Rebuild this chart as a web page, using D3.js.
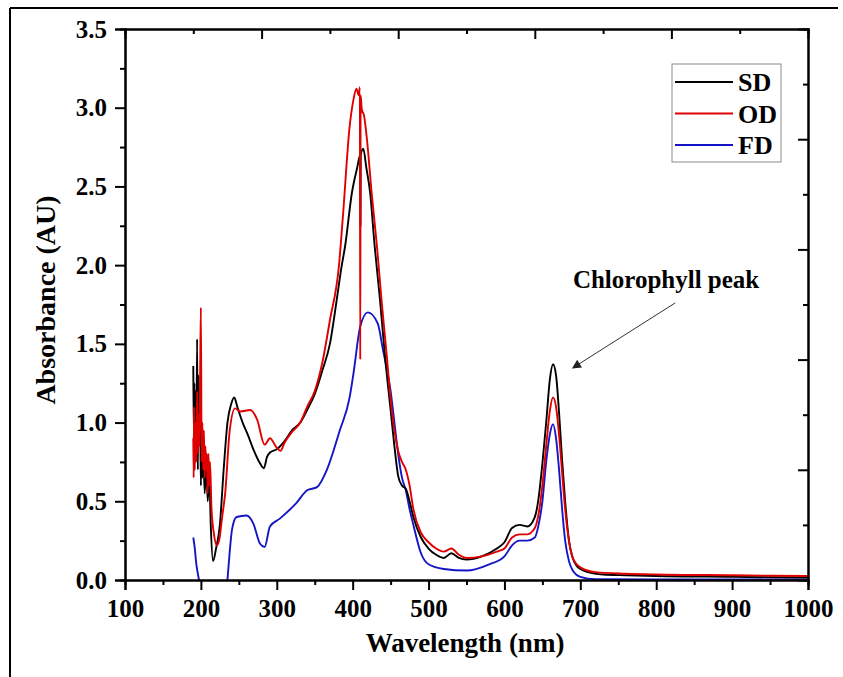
<!DOCTYPE html>
<html>
<head>
<meta charset="utf-8">
<script src="https://cdn.jsdelivr.net/npm/d3@7"></script>
<style>
  body { margin: 0; background: #fff; }
  svg text { font-family: "Liberation Serif", "Times New Roman", serif; font-weight: bold; }
</style>
</head>
<body>
<div id="chart"></div>
<script>
// Series (wavelength in nm, absorbance in AU)
const wlSD = [190, 190.7, 191.5, 192.3, 193, 194, 195, 196, 197, 198, 199, 200, 201, 202, 203, 205, 207, 209, 211, 213, 216, 220, 225, 230, 235, 240, 244, 248, 255, 262, 270, 278, 283, 287, 291, 300, 310, 320, 331, 340, 350, 360, 370, 379, 385, 390, 399, 406, 410, 410.3, 410.6, 414, 418, 423, 429, 436, 443, 450, 455, 460, 465, 470, 475, 480, 490, 500, 510, 520, 530, 540, 550, 570, 590, 600, 610, 620, 630, 640, 645, 650, 655, 660, 664, 668, 672, 676, 680, 685, 690, 695, 700, 710, 730, 760, 800, 900, 1000];
const absSD = [1.36, 0.9, 1.25, 0.95, 1.2, 0.8, 1.53, 0.7, 1.3, 0.9, 1.05, 0.6, 0.9, 0.65, 0.85, 0.55, 0.75, 0.5, 0.68, 0.35, 0.12, 0.2, 0.35, 0.7, 1.0, 1.12, 1.16, 1.1, 1.0, 0.92, 0.82, 0.74, 0.71, 0.78, 0.81, 0.83, 0.88, 0.95, 1.0, 1.08, 1.18, 1.33, 1.5, 1.78, 1.98, 2.12, 2.46, 2.62, 2.7, 2.25, 2.7, 2.74, 2.62, 2.46, 2.12, 1.78, 1.4, 1.08, 0.85, 0.66, 0.6, 0.58, 0.5, 0.4, 0.27, 0.2, 0.16, 0.14, 0.17, 0.14, 0.13, 0.15, 0.2, 0.24, 0.33, 0.35, 0.34, 0.4, 0.52, 0.74, 1.0, 1.28, 1.37, 1.3, 1.06, 0.76, 0.5, 0.25, 0.14, 0.09, 0.07, 0.05, 0.035, 0.03, 0.025, 0.02, 0.015];

const wlOD = [190, 190.5, 191, 192, 193, 194, 195, 196, 197, 198, 199, 200, 201, 202, 203, 204, 205, 206, 207, 208, 209, 210, 211, 212, 214, 217, 221, 224, 228, 232, 238, 245, 252, 265, 274, 284, 291, 300, 305, 310, 320, 331, 340, 350, 360, 370, 382, 387, 396, 401, 405, 408, 409.5, 410, 410.5, 412, 415, 419, 425, 432, 438, 445, 450, 455, 460, 465, 470, 475, 480, 490, 500, 510, 520, 530, 540, 550, 570, 590, 600, 610, 620, 630, 640, 645, 650, 655, 660, 664, 668, 672, 676, 680, 685, 690, 700, 720, 760, 800, 900, 1000];
const absOD = [0.9, 0.65, 1.1, 0.7, 1.0, 0.75, 1.2, 0.8, 1.05, 0.85, 1.3, 1.73, 0.75, 1.0, 0.7, 0.95, 0.65, 0.85, 0.7, 0.8, 0.55, 0.8, 0.6, 0.75, 0.45, 0.3, 0.22, 0.25, 0.4, 0.55, 0.95, 1.09, 1.07, 1.08, 1.02, 0.86, 0.9, 0.84, 0.82, 0.87, 0.94, 1.0, 1.1, 1.2, 1.38, 1.65, 2.0, 2.3, 2.88, 3.05, 3.12, 3.08, 3.13, 1.4, 3.08, 2.99, 2.95, 2.79, 2.46, 2.12, 1.78, 1.42, 1.15, 0.95, 0.82, 0.75, 0.7, 0.6, 0.45, 0.3, 0.24, 0.2, 0.18, 0.2, 0.16, 0.14, 0.15, 0.18, 0.2, 0.27, 0.29, 0.29, 0.33, 0.42, 0.6, 0.85, 1.08, 1.16, 1.1, 0.92, 0.68, 0.45, 0.25, 0.14, 0.08, 0.05, 0.04, 0.035, 0.03, 0.025];

// FD has a gap between ~197 nm and ~236 nm (below zero)
const wlFD = [190, 192, 194, 196, 197.5, null, 235, 238, 241, 247, 260, 269, 278, 284, 291, 304, 326, 340, 353, 366, 383, 396, 401, 410, 420, 433, 440, 447, 450, 455, 460, 465, 470, 475, 480, 490, 500, 520, 550, 580, 600, 610, 620, 630, 640, 645, 650, 655, 660, 664, 668, 672, 676, 680, 685, 690, 700, 720, 800, 1000];
const absFD = [0.27, 0.2, 0.1, 0.04, 0.0, null, 0.0, 0.18, 0.32, 0.4, 0.41, 0.36, 0.23, 0.21, 0.34, 0.39, 0.49, 0.57, 0.59, 0.7, 0.95, 1.16, 1.31, 1.61, 1.7, 1.63, 1.46, 1.29, 1.2, 1.0, 0.8, 0.65, 0.57, 0.45, 0.35, 0.17, 0.1, 0.07, 0.06, 0.1, 0.15, 0.22, 0.25, 0.25, 0.27, 0.35, 0.5, 0.75, 0.93, 0.99, 0.9, 0.7, 0.45, 0.25, 0.12, 0.06, 0.02, 0.005, 0.003, 0.003];

const seriesNames = ["SD", "OD", "FD"];
const seriesColors = ["#000000", "#e00000", "#1515c8"];
const xTicks = [100, 200, 300, 400, 500, 600, 700, 800, 900, 1000];
const yTicks = [0.0, 0.5, 1.0, 1.5, 2.0, 2.5, 3.0, 3.5];

const W = 843, H = 677;
const margin = { top: 29, right: 35, bottom: 97, left: 125 };
const width = W - margin.left - margin.right;
const height = H - margin.top - margin.bottom;

const svg = d3.select("#chart").append("svg")
    .attr("width", W)
    .attr("height", H);

// outer frame of the figure
svg.append("line").attr("x1", 10).attr("y1", 8).attr("x2", 838).attr("y2", 8)
    .attr("stroke", "#000").attr("stroke-width", 2);
svg.append("line").attr("x1", 10).attr("y1", 8).attr("x2", 10).attr("y2", H)
    .attr("stroke", "#000").attr("stroke-width", 2);

const g = svg.append("g").attr("transform", `translate(${margin.left},${margin.top})`);

const x = d3.scaleLinear().domain([100, 1000]).range([0, width]);
const y = d3.scaleLinear().domain([0, 3.5]).range([height, 0]);

g.append("clipPath").attr("id", "plotClip")
    .append("rect").attr("x", 0).attr("y", -2).attr("width", width).attr("height", height + 2);

// build series table
const series = [
    { name: seriesNames[0], color: seriesColors[0], values: wlSD.map((w, i) => ({ w, a: absSD[i] })) },
    { name: seriesNames[1], color: seriesColors[1], values: wlOD.map((w, i) => ({ w, a: absOD[i] })) },
    { name: seriesNames[2], color: seriesColors[2], values: wlFD.map((w, i) => ({ w, a: absFD[i] })) }
];

const line = d3.line()
    .defined(d => d.w !== null)
    .x(d => x(d.w))
    .y(d => y(d.a))
    .curve(d3.curveMonotoneX);

// draw FD first, then SD, then OD on top (as in the reference)
const drawOrder = [2, 0, 1];
g.append("g").attr("clip-path", "url(#plotClip)")
    .selectAll("path")
    .data(drawOrder.map(i => series[i]))
    .enter()
    .append("path")
    .attr("d", d => line(d.values))
    .attr("fill", "none")
    .attr("stroke", d => d.color)
    .attr("stroke-width", 1.9)
    .attr("stroke-linejoin", "round");

// axes
const styleAxis = sel => {
    sel.attr("font-family", null);
    sel.select(".domain").attr("stroke-width", 2);
    sel.selectAll(".tick line").attr("stroke-width", 2);
};

// bottom: minor ticks, then major ticks with labels
g.append("g").attr("transform", `translate(0,${height})`)
    .call(d3.axisBottom(x).tickValues(d3.range(150, 1000, 100)).tickSize(5).tickFormat(""))
    .call(styleAxis);
g.append("g").attr("transform", `translate(0,${height})`)
    .call(d3.axisBottom(x).tickValues(xTicks).tickSize(10).tickPadding(9).tickFormat(d3.format("d")))
    .call(styleAxis)
    .selectAll("text")
    .attr("font-size", "25px")
    .attr("fill", "#000");

// left: minor ticks, then major ticks with labels
g.append("g")
    .call(d3.axisLeft(y).tickValues(d3.range(0.25, 3.5, 0.5)).tickSize(5).tickFormat(""))
    .call(styleAxis);
g.append("g")
    .call(d3.axisLeft(y).tickValues(yTicks).tickSize(10).tickPadding(8).tickFormat(d3.format(".1f")))
    .call(styleAxis)
    .selectAll("text")
    .attr("font-size", "25px")
    .attr("fill", "#000");

// top and right frame axes with inward ticks (10 divisions)
const xTop = d3.scaleLinear().domain([0, 10]).range([0, width]);
const yRight = d3.scaleLinear().domain([0, 10]).range([0, height]);
g.append("g")
    .call(d3.axisBottom(xTop).tickValues(d3.range(1, 10, 2)).tickSize(5).tickFormat(""))
    .call(styleAxis);
g.append("g")
    .call(d3.axisBottom(xTop).tickValues(d3.range(2, 10, 2)).tickSize(10).tickFormat(""))
    .call(styleAxis);
g.append("g").attr("transform", `translate(${width},0)`)
    .call(d3.axisLeft(yRight).tickValues(d3.range(1, 10, 2)).tickSize(5).tickFormat(""))
    .call(styleAxis);
g.append("g").attr("transform", `translate(${width},0)`)
    .call(d3.axisLeft(yRight).tickValues(d3.range(2, 10, 2)).tickSize(10).tickFormat(""))
    .call(styleAxis);

// axis titles
g.append("text")
    .attr("x", 340)
    .attr("y", height + 72)
    .attr("text-anchor", "middle")
    .attr("font-size", "27px")
    .text("Wavelength (nm)");

g.append("text")
    .attr("transform", "rotate(-90)")
    .attr("x", -271)
    .attr("y", -margin.left + 55)
    .attr("text-anchor", "middle")
    .attr("font-size", "28px")
    .text("Absorbance (AU)");

// legend
const legend = g.append("g").attr("transform", `translate(${672 - margin.left},${64 - margin.top})`);
legend.append("rect")
    .attr("width", 109).attr("height", 98)
    .attr("fill", "#fff").attr("stroke", "#8a8a8a").attr("stroke-width", 1);
series.forEach((s, i) => {
    const ly = 18 + i * 31.5;
    legend.append("line")
        .attr("x1", 3).attr("x2", 61).attr("y1", ly).attr("y2", ly)
        .attr("stroke", s.color).attr("stroke-width", 2);
    legend.append("text")
        .attr("x", 66).attr("y", ly + 9)
        .attr("font-size", "26px")
        .text(s.name);
});

// annotation for the chlorophyll peak
svg.append("defs").append("marker")
    .attr("id", "arrow")
    .attr("viewBox", "0 0 10 10")
    .attr("refX", 9).attr("refY", 5)
    .attr("markerWidth", 12).attr("markerHeight", 9)
    .attr("markerUnits", "userSpaceOnUse")
    .attr("orient", "auto")
    .append("path")
    .attr("d", "M0,0 L10,5 L0,10 Z")
    .attr("fill", "#222");

g.append("text")
    .attr("x", x(813))
    .attr("y", y(1.855))
    .attr("text-anchor", "middle")
    .attr("font-size", "25px")
    .text("Chlorophyll peak");

g.append("line")
    .attr("x1", x(825))
    .attr("y1", y(1.76))
    .attr("x2", x(690))
    .attr("y2", y(1.347))
    .attr("stroke", "#333")
    .attr("stroke-width", 1)
    .attr("marker-end", "url(#arrow)");
</script>
</body>
</html>
